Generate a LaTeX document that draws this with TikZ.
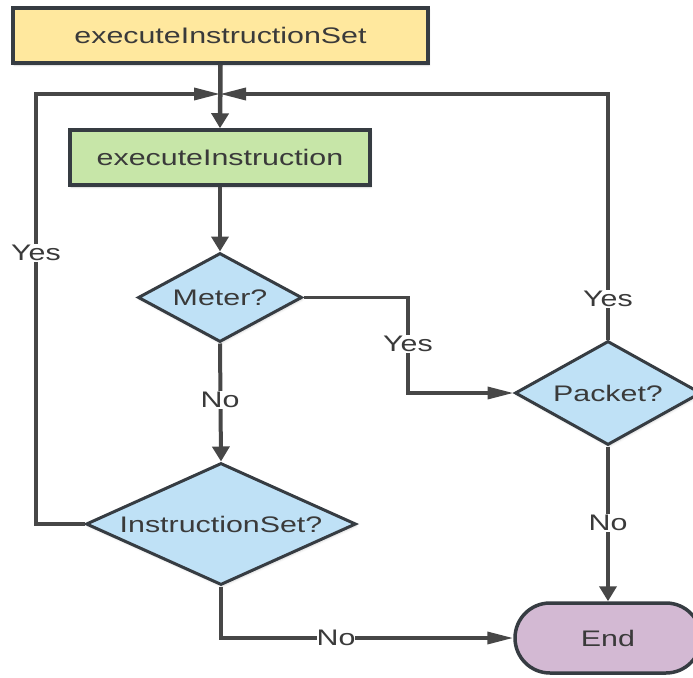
\documentclass[tikz,border=0pt]{standalone}
\usepackage{fontspec}
\setmainfont{Liberation Sans}[FakeStretch=1.35]
\usetikzlibrary{arrows.meta,shapes.geometric,shapes.misc,shadows.blur}

\definecolor{boxyellow}{HTML}{FFE89E}
\definecolor{boxgreen}{HTML}{C7E6A8}
\definecolor{decblue}{HTML}{BFE1F6}
\definecolor{endpurple}{HTML}{D3B9D3}
\definecolor{edgedark}{HTML}{363C42}
\definecolor{flowgray}{HTML}{474747}
\definecolor{textgray}{HTML}{3A3A3A}

\begin{document}
\begin{tikzpicture}[x=1pt,y=-1pt,
  every node/.style={font=\fontsize{22.5}{27}\selectfont, text=textgray},
  procbox/.style={draw=edgedark, line width=3.5pt, rectangle, inner sep=0pt,
    blur shadow={shadow xshift=1pt, shadow yshift=-2pt, shadow opacity=18, shadow blur steps=4}},
  decision/.style={draw=edgedark, line width=3pt, diamond, fill=decblue, inner sep=0pt,
    blur shadow={shadow xshift=1pt, shadow yshift=-2pt, shadow opacity=15, shadow blur steps=4}},
  terminal/.style={draw=edgedark, line width=3.5pt, rounded rectangle, fill=endpurple, inner sep=0pt},
  flowline/.style={draw=flowgray, line width=3.5pt},
  vtip/.style={-{Triangle[length=15pt,width=17pt]}},
  htip/.style={-{Triangle[length=26pt,width=12pt]}},
  lbl/.style={fill=white, inner sep=1.5pt},
]
\useasboundingbox (0,0) rectangle (693,677);

% process boxes
\node[procbox, fill=boxyellow, minimum width=415pt, minimum height=55pt] (setbox) at (220.5,35.5) {executeInstructionSet};
\node[procbox, fill=boxgreen, minimum width=300pt, minimum height=55pt] (instbox) at (220,157.5) {executeInstruction};

% decisions
\node[decision, minimum width=164pt, minimum height=89pt, label=center:{Meter?}] (meter) at (220,297.5) {};
\node[decision, minimum width=186pt, minimum height=104pt, label=center:{Packet?}] (packet) at (608,393) {};
\node[decision, minimum width=270pt, minimum height=122pt, label=center:{InstructionSet?}] (iset) at (221,524) {};

% terminal
\node[terminal, minimum width=186pt, minimum height=70pt] (endn) at (608,638) {End};

% merge point above executeInstruction
\coordinate (junc) at (220,94);

% main flow
\draw[flowline, line width=4.5pt, vtip] (setbox.south) -- (instbox.north);
\draw[flowline, line width=4.5pt, vtip] (instbox.south) -- (meter.north);
\draw[flowline, line width=4pt, vtip] (meter.south) -- (iset.north);
\draw[flowline, htip] (meter.east) -| (408,393) -- (packet.west);
\draw[flowline, line width=4pt, vtip] (packet.south) -- (endn.north);
\draw[flowline, htip] (iset.south) |- (endn.west);

% loops back to executeInstruction
\draw[flowline, htip] (iset.west) -- (36,524) -- (36,94) -- (junc);
\draw[flowline, htip] (packet.north) -- (608,94) -- (junc);

% branch labels
\node[lbl] (yesleft) at (36,253) {Yes};
\node[lbl] (yesmeter) at (408,344) {Yes};
\node[lbl] (yespacket) at (608,299) {Yes};
\node[lbl] (nometer) at (220,400) {No};
\node[lbl] (nopacket) at (608,523) {No};
\node[lbl, inner xsep=0pt] (noiset) at (336,638) {No};
\end{tikzpicture}
\end{document}
